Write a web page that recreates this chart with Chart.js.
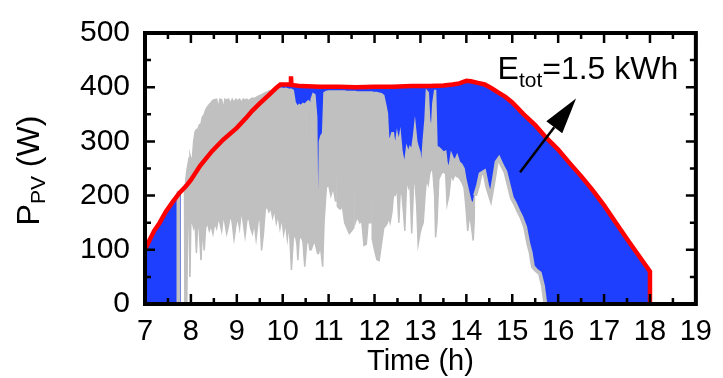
<!DOCTYPE html>
<html>
<head>
<meta charset="utf-8">
<script src="https://cdn.jsdelivr.net/npm/chart.js@4.4.1/dist/chart.umd.min.js"></script>
<style>
html, body { margin: 0; padding: 0; background: #fff; }
</style>
</head>
<body>
<canvas id="chart" width="723" height="378"></canvas>
<script>
var xTicks = [7, 8, 9, 10, 11, 12, 13, 14, 15, 16, 17, 18, 19];
var yTicks = [0, 100, 200, 300, 400, 500];

// maximum (MPP) power, red curve
var redT = [7.00, 7.10, 7.20, 7.32, 7.45, 7.60, 7.75, 7.90, 8.00, 8.20, 8.46, 8.70, 9.00, 9.20, 9.33, 9.50, 9.69, 9.85, 9.95,
	10.10, 10.17, 10.18, 10.19, 10.40, 10.80, 11.20, 11.60, 12.00, 12.40, 12.80, 13.20, 13.50, 13.70, 13.85, 14.00, 14.10,
	14.25, 14.40, 14.55, 14.70, 14.85, 15.00, 15.25, 15.50, 15.75, 16.00, 16.25, 16.50, 16.75, 17.00, 17.25, 17.50, 17.75, 18.00, 18.00];
var redP = [100, 118, 135, 150, 170, 188, 205, 218, 229, 255, 282, 303, 325, 343, 356, 370, 385, 398, 405,
	405, 405, 420, 404, 402, 401, 401, 400, 401, 401, 402, 402, 403, 405, 407, 412, 411,
	408, 405, 398, 390, 382, 372, 350, 330, 306, 285, 260, 236, 210, 182, 151, 120, 90, 60, 0];

// measured power, dense part (upper / lower envelope)
var bandT = [7.78, 7.86, 7.87, 7.88, 7.91, 7.93, 7.96, 7.98, 8.00, 8.03, 8.06, 8.09, 8.12, 8.15, 8.18, 8.22, 8.25, 8.29, 8.32, 8.36, 8.40, 8.44, 8.48,
	8.52, 8.56, 8.60, 8.63, 8.67, 8.71, 8.74, 8.78, 8.82, 8.86, 8.90, 8.94, 8.98, 9.02, 9.06, 9.10, 9.14, 9.18, 9.22, 9.26,
	9.30, 9.34, 9.38, 9.42, 9.46, 9.50, 9.54, 9.58, 9.62, 9.66, 9.70, 9.74, 9.78, 9.82, 9.86, 9.90, 9.94, 9.98, 10.02, 10.06,
	10.10, 10.14, 10.19, 10.23, 10.27, 10.31, 10.33, 10.36, 10.40, 10.44, 10.48, 10.52, 10.56, 10.59, 10.60, 10.61, 10.62, 10.66, 10.70, 10.74,
	10.76, 10.78, 10.80, 10.83, 10.87, 10.90, 10.95, 11.00, 11.05, 11.10, 11.15, 11.155, 11.185, 11.19, 11.25, 11.30, 11.35, 11.40, 11.45, 11.50,
	11.54, 11.545, 11.575, 11.58, 11.62, 11.68, 11.72, 11.77, 11.82, 11.86, 11.91, 11.915, 11.945, 11.95, 12.00, 12.05, 12.10, 12.15, 12.20, 12.25,
	12.28, 12.31, 12.34, 12.38, 12.41, 12.45, 12.49, 12.53, 12.56, 12.60, 12.63, 12.66, 12.70, 12.74, 12.77, 12.81, 12.85, 12.88, 12.92, 12.95,
	12.99, 13.02, 13.06, 13.10, 13.13, 13.17, 13.20, 13.24, 13.27, 13.31, 13.33, 13.36, 13.40, 13.45, 13.50, 13.55, 13.58, 13.62, 13.67, 13.71,
	13.75, 13.80, 13.85, 13.90, 13.95, 13.99, 14.03, 14.07, 14.10, 14.15, 14.18, 14.21];
var bandHi = [207, 215, 220, 222, 245, 255, 270, 275, 268, 267, 300, 318, 322, 322, 330, 333, 345, 350, 358, 364, 368, 372, 376,
	377, 378, 362, 378, 377, 360, 378, 376, 378, 370, 378, 372, 378, 375, 378, 372, 378, 376, 378, 375,
	378, 380, 379, 381, 383, 385, 386, 388, 390, 391, 393, 394, 395, 396, 397, 398, 398, 398, 397, 398,
	397, 396, 396, 394, 372, 366, 365, 368, 366, 370, 368, 372, 375, 372, 195, 195, 378, 388, 386, 345,
	160, 160, 300, 310, 315, 390, 392, 393, 393, 393, 393, 393, 393, 393, 393, 393, 393, 392, 392, 392,
	392, 392, 392, 392, 391, 391, 391, 391, 391, 391, 391, 391, 391, 391, 390, 390, 389, 388, 385, 365,
	352, 300, 305, 316, 316, 290, 316, 300, 316, 280, 268, 262, 290, 280, 290, 285, 310, 334, 300, 290,
	280, 250, 300, 340, 394, 390, 340, 320, 370, 394, 394, 290, 289, 285, 280, 282, 260, 250, 278, 270,
	265, 275, 262, 258, 250, 230, 215, 200, 190, 185, 200, 205];
var bandLo = [207, 215, 0, 0, 0, 150, 160, 50, 160, 150, 140, 150, 94, 150, 140, 81, 140, 99, 140, 150, 135, 145, 130,
	150, 140, 160, 150, 135, 165, 150, 130, 145, 165, 150, 120, 145, 160, 140, 175, 150, 125, 155, 160,
	140, 130, 150, 120, 150, 165, 99, 130, 175, 180, 170, 178, 160, 175, 150, 165, 140, 160, 130, 150,
	120, 150, 63, 120, 130, 110, 81, 120, 125, 115, 69, 110, 120, 100, 100, 100, 100, 110, 115, 100,
	93, 93, 100, 100, 69, 150, 215, 220, 200, 215, 190, 380, 380, 180, 175, 180, 150, 140, 130, 135,
	140, 362, 362, 150, 160, 150, 155, 108, 110, 150, 150, 344, 344, 120, 100, 82, 80, 110, 140, 145,
	150, 160, 150, 170, 200, 200, 215, 150, 210, 200, 170, 135, 230, 215, 225, 130, 220, 230, 180, 110,
	130, 140, 150, 200, 230, 220, 240, 250, 245, 200, 123, 150, 230, 240, 245, 240, 184, 200, 240, 230,
	238, 235, 232, 225, 215, 180, 135, 165, 150, 117, 170, 190];

// measured power, single trace (null = break)
var greyT = [7.73, 7.73, 7.74, 14.19, 14.26, 14.31, 14.39, 14.46, 14.53, 14.60, 14.66, 14.71, 14.78, 14.85, 14.92, 14.99,
	15.06, 15.13, 15.20, 15.28, 15.35, 15.40, 15.45, 15.52, 15.60, 15.67, 15.72];
var greyP = [0, 208, null, 200, 220, 240, 244, 215, 196, 230, 262, 268, 255, 244, 220, 196,
	185, 172, 160, 142, 111, 95, 69, 62, 57, 33, 0];

var note = { head: 'E', sub: 'tot', tail: '=1.5 kWh', t: 14.68, p: 415 };
var arrow = { t0: 15.17, p0: 243, t1: 16.39, p1: 379 };

function pts(t, p) {
	return t.map(function(v, i) { return { x: v, y: p[i] }; });
}

var FONT = '"Liberation Sans", Arial, sans-serif';
var BLUE = '#1f3fff', GREY = '#c0c0c0', RED = '#ff0000';

var decor = {
	id: 'decor',
	afterDraw: function(c) {
		var ctx = c.ctx, a = c.chartArea, xs = c.scales.x, ys = c.scales.y;
		ctx.save();
		ctx.strokeStyle = '#000';
		ctx.lineWidth = 2.5;
		ctx.beginPath();
		//ticks pointing inwards on all four sides
		xTicks.forEach(function(v, i) {
			var px = xs.getPixelForValue(v);
			ctx.moveTo(px, a.bottom); ctx.lineTo(px, a.bottom - 10);
			ctx.moveTo(px, a.top); ctx.lineTo(px, a.top + 10);
			if (i < xTicks.length - 1) {
				var pm = xs.getPixelForValue((v + xTicks[i + 1]) / 2);
				ctx.moveTo(pm, a.bottom); ctx.lineTo(pm, a.bottom - 6);
				ctx.moveTo(pm, a.top); ctx.lineTo(pm, a.top + 6);
			}
		});
		yTicks.forEach(function(v, i) {
			var py = ys.getPixelForValue(v);
			ctx.moveTo(a.left, py); ctx.lineTo(a.left + 10, py);
			ctx.moveTo(a.right, py); ctx.lineTo(a.right - 10, py);
			if (i < yTicks.length - 1) {
				var pm = ys.getPixelForValue((v + yTicks[i + 1]) / 2);
				ctx.moveTo(a.left, pm); ctx.lineTo(a.left + 6, pm);
				ctx.moveTo(a.right, pm); ctx.lineTo(a.right - 6, pm);
			}
		});
		ctx.stroke();
		ctx.lineWidth = 4;
		ctx.strokeRect(a.left, a.top, a.right - a.left, a.bottom - a.top);

		//arrow
		var x0 = xs.getPixelForValue(arrow.t0), y0 = ys.getPixelForValue(arrow.p0);
		var x1 = xs.getPixelForValue(arrow.t1), y1 = ys.getPixelForValue(arrow.p1);
		var ang = Math.atan2(y1 - y0, x1 - x0), hl = 36, hw = 10;
		var bx = x1 - hl * Math.cos(ang), by = y1 - hl * Math.sin(ang);
		ctx.lineWidth = 2.5;
		ctx.beginPath();
		ctx.moveTo(x0, y0); ctx.lineTo(bx, by);
		ctx.stroke();
		ctx.fillStyle = '#000';
		ctx.beginPath();
		ctx.moveTo(x1, y1);
		ctx.lineTo(bx + hw * Math.sin(ang), by - hw * Math.cos(ang));
		ctx.lineTo(bx - hw * Math.sin(ang), by + hw * Math.cos(ang));
		ctx.closePath();
		ctx.fill();

		//E_tot label
		var tx = xs.getPixelForValue(note.t), ty = ys.getPixelForValue(note.p);
		ctx.textBaseline = 'alphabetic';
		ctx.textAlign = 'left';
		ctx.font = '32px ' + FONT;
		ctx.fillText(note.head, tx, ty);
		tx += ctx.measureText(note.head).width;
		ctx.font = '21px ' + FONT;
		ctx.fillText(note.sub, tx, ty + 8);
		tx += ctx.measureText(note.sub).width;
		ctx.font = '32px ' + FONT;
		ctx.fillText(note.tail, tx, ty);

		//y axis title with subscript
		ctx.translate(30, (a.top + a.bottom) / 2 + 2);
		ctx.rotate(-Math.PI / 2);
		ctx.font = '32px ' + FONT;
		var w1 = ctx.measureText('P').width, w3 = ctx.measureText(' (W)').width;
		ctx.font = '21px ' + FONT;
		var w2 = ctx.measureText('PV').width;
		var sx = -(w1 + w2 + w3) / 2;
		ctx.textBaseline = 'middle';
		ctx.font = '32px ' + FONT;
		ctx.fillText('P', sx, 0);
		ctx.font = '21px ' + FONT;
		ctx.fillText('PV', sx + w1, 9);
		ctx.font = '32px ' + FONT;
		ctx.fillText(' (W)', sx + w1 + w2, 0);
		ctx.restore();
	}
};

// draw order: last dataset first (blue under everything, red on top)
var chart = new Chart(document.getElementById('chart'), {
	type: 'line',
	data: {
		datasets: [{
			label: 'Pmax',
			data: pts(redT, redP),
			borderColor: RED,
			borderWidth: 4.5,
			pointRadius: 0,
			fill: false
		}, {
			label: 'Ppv',
			data: pts(greyT, greyP),
			borderColor: GREY,
			borderWidth: 4,
			backgroundColor: '#fff',
			pointRadius: 0,
			spanGaps: false,
			fill: 'origin'
		}, {
			label: 'Ppv hi',
			data: pts(bandT, bandHi),
			borderColor: GREY,
			borderWidth: 1.5,
			backgroundColor: GREY,
			pointRadius: 0,
			fill: '+1'
		}, {
			label: 'Ppv lo',
			data: pts(bandT, bandLo),
			borderColor: GREY,
			borderWidth: 1.5,
			backgroundColor: '#fff',
			pointRadius: 0,
			fill: 'origin'
		}, {
			label: 'Etot',
			data: pts(redT, redP),
			borderWidth: 0,
			borderColor: BLUE,
			backgroundColor: BLUE,
			pointRadius: 0,
			fill: 'origin'
		}]
	},
	options: {
		responsive: false,
		animation: false,
		devicePixelRatio: 1,
		layout: { padding: { top: 28, right: 20, left: 0, bottom: 0 } },
		plugins: { legend: { display: false }, tooltip: { enabled: false } },
		elements: { line: { tension: 0 } },
		scales: {
			x: {
				type: 'linear', min: 7, max: 19,
				afterBuildTicks: function(s) { s.ticks = xTicks.map(function(v) { return { value: v }; }); },
				afterFit: function(s) { s.height = 74; },
				grid: { display: false, drawTicks: false },
				border: { display: false },
				ticks: { color: '#000', padding: 11, maxRotation: 0, autoSkip: false, font: { family: FONT, size: 29 } },
				title: { display: true, text: 'Time (h)', color: '#000', padding: { top: 0, bottom: 1.5 },
					font: { family: FONT, size: 29, lineHeight: 1 } }
			},
			y: {
				type: 'linear', min: 0, max: 500,
				afterBuildTicks: function(s) { s.ticks = yTicks.map(function(v) { return { value: v }; }); },
				afterFit: function(s) { s.width = 145; },
				grid: { display: false, drawTicks: false },
				border: { display: false },
				ticks: { color: '#000', padding: 15, font: { family: FONT, size: 30 } }
			}
		}
	},
	plugins: [decor]
});
</script>
</body>
</html>
